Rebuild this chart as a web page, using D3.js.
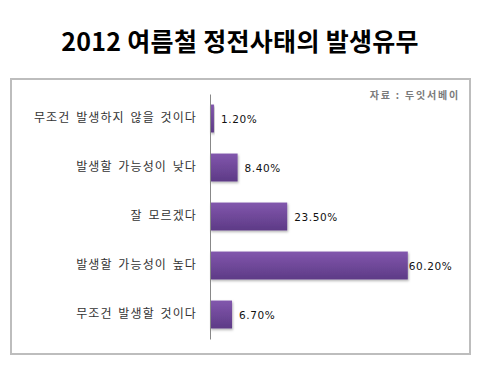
<!DOCTYPE html>
<html><head><meta charset="utf-8">
<script src="https://cdn.jsdelivr.net/npm/d3@7"></script>
<style>body{margin:0;background:#fff}svg{display:block}</style>
</head><body>
<script>
const categories = ["무조건 발생하지 않을 것이다","발생할 가능성이 낮다","잘 모르겠다","발생할 가능성이 높다","무조건 발생할 것이다"];
const values = [1.2, 8.4, 23.5, 60.2, 6.7];
const valueLabels = ["1.20%","8.40%","23.50%","60.20%","6.70%"];
const title = "2012 여름철 정전사태의 발생유무";
const source = "자료 : 두잇서베이";

const W=480,H=366;
const svg=d3.select("body").append("svg").attr("width",W).attr("height",H);
const defs=svg.append("defs");
const g=defs.append("linearGradient").attr("id","bg").attr("x1",0).attr("y1",0).attr("x2",0).attr("y2",1);
g.append("stop").attr("offset","0%").attr("stop-color","#8257ad");
g.append("stop").attr("offset","100%").attr("stop-color","#5d3a86");
const f=defs.append("filter").attr("id","sh").attr("x","-10%").attr("y","-10%").attr("width","130%").attr("height","140%");
f.append("feDropShadow").attr("dx",1).attr("dy",1.5).attr("stdDeviation",1).attr("flood-color","#000").attr("flood-opacity",0.3);

svg.append("text").attr("x",240).attr("y",51).attr("text-anchor","middle")
  .attr("font-family","'Noto Sans CJK KR'").attr("font-weight","bold").attr("font-size",25)
  .attr("letter-spacing",0.3).attr("fill","#000").text(title);

svg.append("rect").attr("x",11).attr("y",79).attr("width",459).attr("height",275)
  .attr("fill","#fff").attr("stroke","#bdbdbd").attr("stroke-width",2);

svg.append("text").attr("x",460).attr("y",99).attr("text-anchor","end")
  .attr("font-family","'Noto Sans CJK KR'").attr("font-weight","bold").attr("font-size",10)
  .attr("letter-spacing",1.8).attr("fill","#7a7a7a").text(source);

const x=d3.scaleLinear().domain([0,70]).range([210,440]);
const y=d3.scaleBand().domain(categories).range([94,339]).paddingInner(0.43).paddingOuter(0.215);

svg.selectAll("rect.bar").data(categories).join("rect").attr("class","bar")
  .attr("x",x(0)).attr("y",d=>y(d)).attr("width",(d,i)=>x(values[i])-x(0))
  .attr("height",y.bandwidth()).attr("fill","url(#bg)").attr("filter","url(#sh)");

const yAxis=svg.append("g").attr("transform",`translate(${x(0)},0)`)
  .call(d3.axisLeft(y).tickSize(0).tickPadding(13));
yAxis.select(".domain").attr("stroke","#888").attr("stroke-width",1);
yAxis.selectAll("text").attr("font-family","'Noto Sans CJK KR'").attr("font-size",12)
  .attr("letter-spacing",1.1).attr("word-spacing",2).attr("fill","#333");

svg.selectAll("text.val").data(categories).join("text").attr("class","val")
  .attr("x",(d,i)=>x(values[i])+(i===3?1:7)).attr("y",d=>y(d)+y.bandwidth()/2+4)
  .attr("font-family","'DejaVu Sans'").attr("font-size",10.5).attr("letter-spacing",0.6).attr("fill","#111")
  .text((d,i)=>valueLabels[i]);
</script>
</body></html>
